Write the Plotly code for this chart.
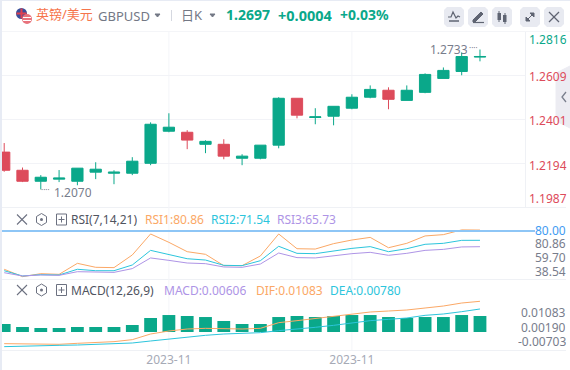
import plotly.graph_objects as go

W, H = 570, 370
FONT = "Noto Sans, Noto Sans CJK SC, sans-serif"
GREEN, RED = "#0aa88a", "#dd4b5b"
ORANGE, CYAN, PURPLE = "#fba866", "#2cc5dc", "#ae94e6"
GRAY = "#787d8c"

x_index = list(range(27))
opens = [1.2247,1.2161,1.2109,1.2119,1.2109,1.2152,1.2147,1.2147,1.2194,1.2346,1.2341,1.2284,1.2284,1.2218,1.2218,1.2280,
         1.2502,1.2411,1.2417,1.2455,1.2507,1.2540,1.2492,1.2530,1.2596,1.2629,1.2697]
closes = [1.2161,1.2109,1.2128,1.2124,1.2171,1.2166,1.2152,1.2204,1.2379,1.2365,1.2304,1.2298,1.2228,1.2228,1.2280,1.2502,
          1.2422,1.2414,1.2464,1.2507,1.2544,1.2497,1.2540,1.2615,1.2634,1.2700,1.2700]
highs = [1.2290,1.2174,1.2138,1.2162,1.2171,1.2199,1.2161,1.2223,1.2388,1.2431,1.2351,1.2303,1.2308,1.2237,1.2280,1.2507,
         1.2502,1.2455,1.2464,1.2521,1.2563,1.2554,1.2563,1.2620,1.2648,1.2719,1.2733]
lows = [1.2154,1.2105,1.2070,1.2105,1.2090,1.2119,1.2095,1.2138,1.2185,1.2341,1.2261,1.2242,1.2213,1.2185,1.2213,1.2265,
        1.2407,1.2379,1.2374,1.2450,1.2502,1.2450,1.2492,1.2526,1.2596,1.2611,1.2677]

rsi1 = [45.2,38.5,41.2,40.6,50.6,47.0,46.7,58.2,77.3,69.7,61.2,58.8,48.5,48.5,57.3,77.3,63.9,63.6,68.5,71.8,74.2,64.8,68.8,75.5,76.7,81.0,80.86]
rsi2 = [43.9,39.1,40.3,40.0,45.2,43.9,43.9,49.1,62.4,58.8,54.8,53.6,48.8,48.5,53.0,66.1,59.7,59.4,62.1,64.2,65.8,61.2,63.9,67.9,68.8,71.5,71.54]
rsi3 = [42.1,39.1,40.0,39.7,43.0,42.4,42.4,45.8,55.5,53.3,50.9,50.3,47.3,47.0,50.0,60.0,55.8,55.5,57.6,59.4,60.6,57.9,59.7,62.4,63.3,65.5,65.73]

macd = [.00303,.00189,.00151,.00151,.00189,.00189,.00189,.00265,.00530,.00643,.00606,.00567,.00416,.00303,.00303,.00567,
        .00606,.00567,.00606,.00643,.00643,.00567,.00530,.00567,.00567,.00643,.00606]
dif = [-.00585,-.00598,-.00611,-.00611,-.00572,-.00533,-.00506,-.00428,-.00205,-.00087,-.00008,.00018,.00005,-.00008,.00018,.00241,
       .00320,.00412,.00491,.00583,.00661,.00701,.00740,.00819,.00897,.01015,.01083]
dea = [-.00703,-.00677,-.00664,-.00651,-.00638,-.00611,-.00598,-.00559,-.00480,-.00401,-.00323,-.00257,-.00205,-.00178,-.00152,-.00073,
       -.00021,.00058,.00136,.00241,.00320,.00373,.00425,.00530,.00583,.00674,.00780]

price_ticks = [1.2609, 1.2401, 1.2194]
date_ticks = [9, 19]
date_labels = ["2023-11", "2023-11"]


def px(x):
    return x / W


def py(y):
    return 1 - y / H


fig = go.Figure()
fig.add_trace(go.Candlestick(x=x_index, open=opens, high=highs, low=lows, close=closes, yaxis="y",
                             increasing=dict(line=dict(color=GREEN, width=1), fillcolor=GREEN),
                             decreasing=dict(line=dict(color=RED, width=1), fillcolor=RED),
                             whiskerwidth=0, hoverinfo="skip"))
for vals, col in ((rsi1, ORANGE), (rsi2, CYAN), (rsi3, PURPLE)):
    fig.add_trace(go.Scatter(x=x_index, y=vals, yaxis="y2", mode="lines", line=dict(color=col, width=1), hoverinfo="skip"))
fig.add_trace(go.Bar(x=x_index, y=macd, yaxis="y3", marker=dict(color=GREEN, line=dict(width=0)), width=0.7, hoverinfo="skip"))
for vals, col in ((dif, ORANGE), (dea, CYAN)):
    fig.add_trace(go.Scatter(x=x_index, y=vals, yaxis="y4", mode="lines", line=dict(color=col, width=1), hoverinfo="skip"))

shapes = []
ann = []


def line(x0, y0, x1, y1, color="#f2f3f7", width=1, layer="below"):
    shapes.append(dict(type="line", xref="paper", yref="paper", x0=px(x0), y0=py(y0), x1=px(x1), y1=py(y1),
                       line=dict(color=color, width=width), layer=layer))


def rect(x0, y0, x1, y1, fill, color=None, width=0, layer="below"):
    shapes.append(dict(type="rect", xref="paper", yref="paper", x0=px(x0), y0=py(y0), x1=px(x1), y1=py(y1),
                       fillcolor=fill, line=dict(color=color or fill, width=width), layer=layer))


def poly(points, fill=None, color=GRAY, width=1, close=True, layer="above"):
    d = "M" + " L".join(f"{px(a):.5f},{py(b):.5f}" for a, b in points) + (" Z" if close else "")
    s = dict(type="path", xref="paper", yref="paper", path=d, line=dict(color=color, width=width), layer=layer)
    if fill:
        s["fillcolor"] = fill
    shapes.append(s)


def circle(x0, y0, x1, y1, fill):
    shapes.append(dict(type="circle", xref="paper", yref="paper", x0=px(x0), y0=py(y0), x1=px(x1), y1=py(y1),
                       fillcolor=fill, line=dict(width=0), layer="above"))


def text(x, y, s, color=GRAY, size=12, anchor="left", bold=False):
    ann.append(dict(xref="paper", yref="paper", x=px(x), y=py(y), text=f"<b>{s}</b>" if bold else s, showarrow=False,
                    xanchor=anchor, yanchor="middle", borderpad=0, borderwidth=0, height=size + 1,
                    font=dict(family=FONT, size=size, color=color)))


# frame
rect(0, 0, 2, H, "#e7ebf4")
rect(0, 0, W, 1, "#e7ebf4")
rect(2, 31, W, 32, "#f4f5f8")
line(525.5, 32, 525.5, 207, "#eff1f5")
for yy in (207.5, 279.5, 350.5):
    line(2, yy, 566, yy, "#eff1f5")

for d in date_ticks:
    shapes.append(dict(type="line", xref="x", yref="paper", x0=d, x1=d, y0=py(32), y1=py(350),
                       line=dict(color="#f4f5f9", width=1), layer="below"))

# RSI 80 line
line(2, 231, 535, 231, "#8ec6f6", 2, "above")

# header
circle(16, 8, 27, 19, "#3a4f9a")
rect(20.5, 8.5, 22.5, 18.5, "#e04050", layer="above")
rect(16.5, 12.5, 26.5, 14.5, "#e04050", layer="above")
circle(22, 14, 32, 24, "#e8727c")
rect(23, 17, 31, 18, "#ffffff", layer="above")
rect(23, 20, 31, 21, "#ffffff", layer="above")
text(36, 14, "英镑/美元", "#f6754c", 13)
text(98, 15.5, "GBPUSD", "#737885", 13)
poly([(155, 14), (160, 14), (157.5, 17)], fill="#737885", color="#737885")
line(171.5, 10, 171.5, 21, "#d5d8e0", 1, "above")
text(181, 14.5, "日K", "#737885", 13)
poly([(210, 14), (215, 14), (212.5, 17)], fill="#737885", color="#737885")
text(226, 14.5, "1.2697", GREEN, 14, bold=True)
text(278, 14.5, "+0.0004", GREEN, 14.5, bold=True)
text(340, 14.5, "+0.03%", GREEN, 14, bold=True)

# toolbar buttons
for x0 in (444, 468, 492, 520, 544):
    shapes.append(dict(type="path", xref="paper", yref="paper", layer="below", fillcolor="#e8eaf1", line=dict(width=0),
                       path="M" + " L".join(f"{px(a):.5f},{py(b):.5f}" for a, b in
                                            [(x0 + 3, 7), (x0 + 17, 7), (x0 + 20, 10), (x0 + 20, 24), (x0 + 17, 27),
                                             (x0 + 3, 27), (x0, 24), (x0, 10)]) + " Z"))
poly([(448, 17), (451, 17), (453, 12), (456, 18), (458, 16), (460, 17)], close=False, color="#5f6472", width=1.2)
line(449, 21, 459, 21, "#5f6472", 1.5, "above")
poly([(473, 20), (481, 12), (483, 14), (475, 22), (473, 22)], fill="#5f6472", color="#5f6472")
line(473, 22.5, 484, 22.5, "#5f6472", 1.2, "above")
rect(497.5, 13, 501, 20, "#5f6472", layer="above")
rect(503, 15, 506.5, 22, "#5f6472", layer="above")
line(499, 11, 499, 22, "#5f6472", 1, "above")
line(505, 13, 505, 24, "#5f6472", 1, "above")
line(526, 21, 534, 13, "#5f6472", 1, "above")
poly([(530, 13), (534, 13), (534, 17)], fill="#5f6472", color="#5f6472")
poly([(526, 17), (526, 21), (530, 21)], fill="#5f6472", color="#5f6472")
line(549, 12, 559, 22, "#5f6472", 1.2, "above")
line(559, 12, 549, 22, "#5f6472", 1.2, "above")

# side handle
poly([(570, 66), (558, 72), (556, 78), (556, 116), (558, 122), (570, 128)], fill="#ececf2", color="#ececf2", layer="above")
poly([(566, 92), (562, 97), (566, 102)], close=False, color="#7a7f8d", width=1.3)

# price labels
text(567, 39, "1.2816", GREEN, 12, "right")
text(567, 76, "1.2609", RED, 12, "right")
text(567, 120, "1.2401", RED, 12, "right")
text(567, 165, "1.2194", RED, 12, "right")
text(567, 198, "1.1987", RED, 12, "right")
text(54, 192, "1.2070", GRAY, 12)
text(41, 189, "····", GRAY, 8)
text(430, 50, "1.2733", GRAY, 12)
text(469, 47, "····", GRAY, 8)


# indicator header icons
def icons(cy):
    line(17, cy - 5, 27, cy + 5, "#6c7180", 1.1, "above")
    line(27, cy - 5, 17, cy + 5, "#6c7180", 1.1, "above")
    poly([(41.5, cy - 6), (46.5, cy - 3), (46.5, cy + 3), (41.5, cy + 6), (36.5, cy + 3), (36.5, cy - 3)], color="#6c7180")
    circle(40, cy - 1.5, 43, cy + 1.5, "#6c7180")
    rect(56.5, cy - 5.5, 66.5, cy + 5.5, "rgba(0,0,0,0)", "#6c7180", 1, "above")
    line(58.5, cy, 64.5, cy, "#6c7180", 1, "above")
    line(61.5, cy - 3, 61.5, cy + 3, "#6c7180", 1, "above")


icons(219.5)
icons(290)
text(71, 219.5, "RSI(7,14,21)", "#50545f", 12)
text(145, 219.5, "RSI1:80.86", ORANGE, 12)
text(211, 219.5, "RSI2:71.54", CYAN, 12)
text(277, 219.5, "RSI3:65.73", PURPLE, 12)
text(71, 290.5, "MACD(12,26,9)", "#50545f", 12)
text(164, 290.5, "MACD:0.00606", PURPLE, 12)
text(256, 290.5, "DIF:0.01083", ORANGE, 12)
text(330, 290.5, "DEA:0.00780", CYAN, 12)

text(566, 231, "80.00", "#3f9bf2", 12, "right")
text(566, 243.5, "80.86", GRAY, 12, "right")
text(566, 257, "59.70", GRAY, 12, "right")
text(566, 271.5, "38.54", GRAY, 12, "right")
text(566, 312.5, "0.01083", GRAY, 12, "right")
text(566, 327.5, "0.00190", GRAY, 12, "right")
text(566, 341.5, "-0.00703", GRAY, 12, "right")


def dom(top, bottom):
    return [py(bottom), py(top)]


hidden = dict(showticklabels=False, ticks="", zeroline=False, showline=False, showgrid=False, fixedrange=True)
fig.update_layout(
    width=W, height=H, margin=dict(l=0, r=0, t=0, b=0), autosize=False, boxgap=0.12,
    paper_bgcolor="white", plot_bgcolor="rgba(0,0,0,0)", showlegend=False,
    font=dict(family=FONT), shapes=shapes, annotations=ann,
    xaxis=dict(domain=[px(2), px(525)], range=[-0.12, 28.46], rangeslider=dict(visible=False), anchor="y3",
               tickmode="array", tickvals=date_ticks, ticktext=date_labels, ticks="", showgrid=False, zeroline=False,
               showline=False, tickfont=dict(family=FONT, size=12, color="#a6aab6"), ticklabelstandoff=1),
    yaxis=dict(domain=dom(32, 207), range=[1.1987, 1.2816], tickmode="array", tickvals=price_ticks,
               showticklabels=False, ticks="", zeroline=False, showgrid=True, gridcolor="#f2f3f7", gridwidth=1, fixedrange=True),
    yaxis2=dict(domain=dom(207, 279), range=[36.36, 101.82], **hidden),
    yaxis3=dict(domain=dom(279, 350), range=[-0.00682, 0.02008], **hidden),
    yaxis4=dict(domain=dom(279, 350), range=[-0.00835, 0.01961], overlaying="y3", **hidden),
)
fig.write_html("out.html", config=dict(displayModeBar=False),
               post_script="document.body.style.margin='0';document.documentElement.style.overflow='hidden';")
